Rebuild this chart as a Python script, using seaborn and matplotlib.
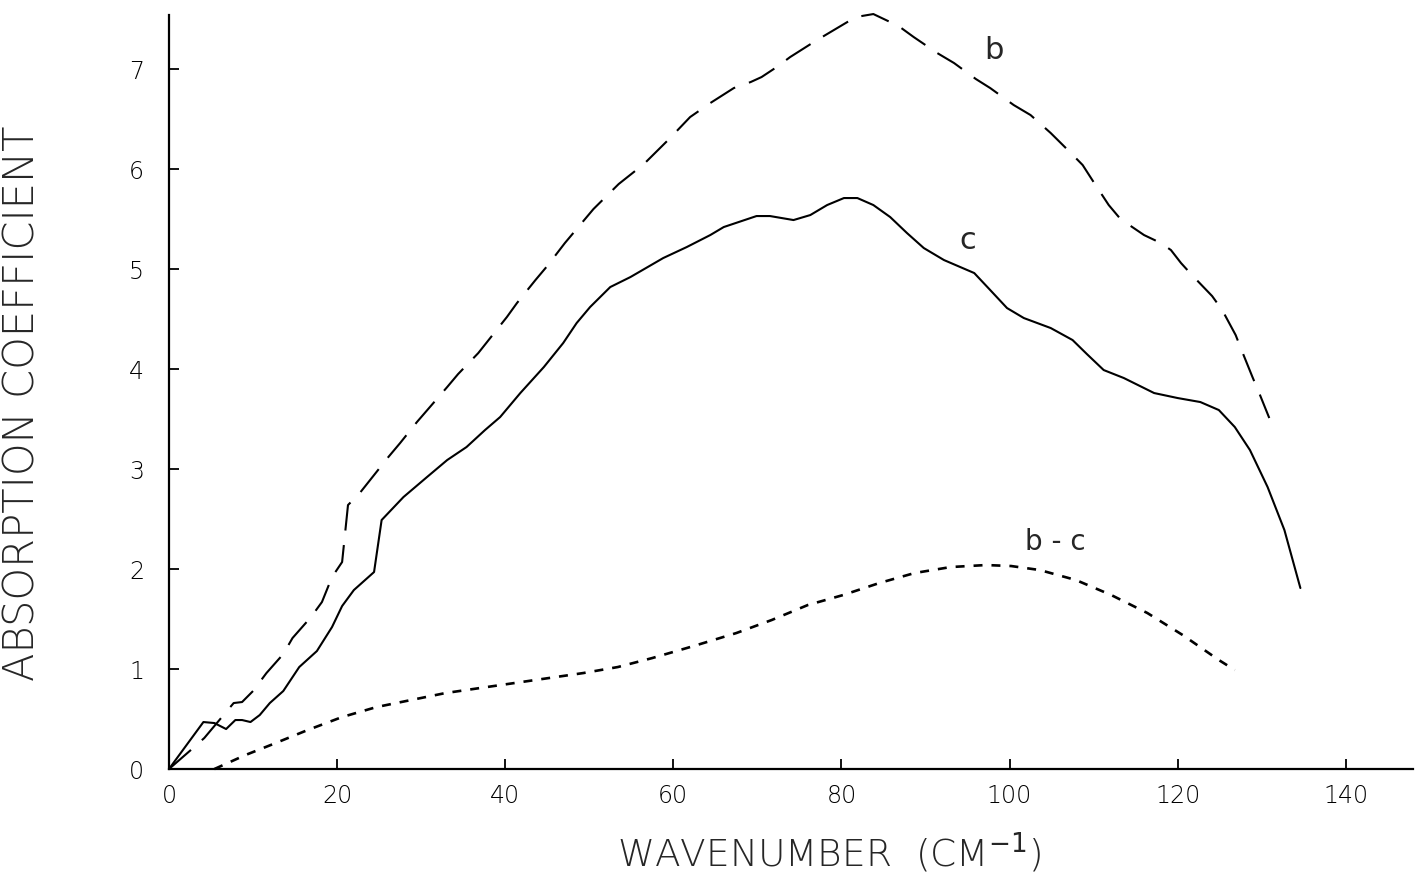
import pandas as pd
import matplotlib
matplotlib.use("Agg")
import matplotlib.pyplot as plt
import seaborn as sns

# curve c (solid)
c_x = [0, 4.1, 5.4, 6.8, 7.9, 8.7, 9.7, 10.8, 12.0, 13.6, 15.5, 17.6, 19.4, 20.6, 22.0, 24.4,
       25.3, 27.9, 30.7, 33.1, 35.4, 37.6, 39.4, 41.8, 44.6, 46.9, 48.5, 50.1, 52.5, 54.9,
       58.8, 61.6, 64.4, 66.0, 69.9, 71.5, 74.3, 76.3, 78.3, 80.3, 81.9, 83.8, 85.8, 87.8,
       89.8, 92.2, 95.8, 97.7, 99.7, 101.7, 104.9, 107.5, 109.2, 111.2, 113.6, 117.2, 120.0,
       122.7, 124.9, 126.8, 128.6, 130.7, 132.7, 134.6]
c_y = [0, 0.47, 0.46, 0.40, 0.49, 0.49, 0.47, 0.54, 0.66, 0.78, 1.02, 1.18, 1.42, 1.63, 1.79, 1.97,
       2.49, 2.72, 2.92, 3.09, 3.22, 3.39, 3.52, 3.76, 4.02, 4.26, 4.46, 4.62, 4.82, 4.92,
       5.11, 5.22, 5.34, 5.42, 5.53, 5.53, 5.49, 5.54, 5.64, 5.71, 5.71, 5.64, 5.52, 5.36,
       5.21, 5.09, 4.96, 4.79, 4.61, 4.51, 4.41, 4.29, 4.15, 3.99, 3.91, 3.76, 3.71,
       3.67, 3.59, 3.42, 3.19, 2.82, 2.39, 1.81]

# curve b (long dashes)
b_x = [0, 2.6, 4.2, 6.3, 7.7, 8.7, 10.0, 11.6, 13.6, 14.7, 16.9, 18.2, 19.4, 20.6, 21.3, 22.7,
       26.1, 27.5, 29.5, 33.1, 34.4, 36.8, 40.2, 41.4, 43.6, 45.0, 47.1, 50.5, 53.5, 56.5,
       59.5, 62.0, 64.4, 67.2, 69.2, 70.5, 72.3, 73.9, 76.9, 78.7, 81.7, 83.8, 86.8, 88.6,
       91.4, 93.4, 96.0, 97.7, 100.5, 102.5, 104.9, 107.3, 108.7, 110.0, 111.8, 113.2, 116.0,
       118.0, 119.2, 120.4, 121.7, 124.1, 125.3, 126.9, 127.6, 128.9, 129.7, 130.9]
b_y = [0, 0.19, 0.31, 0.52, 0.66, 0.67, 0.78, 0.96, 1.15, 1.31, 1.52, 1.67, 1.92, 2.07, 2.64, 2.76,
       3.12, 3.26, 3.47, 3.82, 3.95, 4.16, 4.52, 4.66, 4.89, 5.03, 5.26, 5.6, 5.85, 6.05,
       6.3, 6.52, 6.66, 6.81, 6.87, 6.92, 7.02, 7.12, 7.28, 7.37, 7.52, 7.55, 7.43, 7.32,
       7.16, 7.06, 6.90, 6.81, 6.64, 6.54, 6.36, 6.16, 6.04, 5.87, 5.64, 5.50, 5.34,
       5.26, 5.19, 5.06, 4.94, 4.73, 4.59, 4.34, 4.19, 3.92, 3.76, 3.51]

# difference b - c (short dashes)
bc_x = [5.4, 9.1, 12.4, 16.5, 20.6, 24.7, 28.8, 32.9, 37.0, 41.1, 45.2, 49.3, 53.4, 57.5, 61.6,
        63.2, 67.5, 71.7, 76.0, 80.2, 84.5, 88.7, 93.0, 97.2, 100.2, 103.6, 107.9, 112.1,
        116.4, 120.6, 124.9, 126.8]
bc_y = [0, 0.14, 0.25, 0.39, 0.52, 0.62, 0.69, 0.76, 0.81, 0.86, 0.91, 0.96, 1.02, 1.11, 1.21,
        1.25, 1.36, 1.49, 1.64, 1.74, 1.86, 1.96, 2.02, 2.04, 2.03, 1.99, 1.89, 1.74,
        1.56, 1.34, 1.09, 0.99]

x_ticks = [0, 20, 40, 60, 80, 100, 120, 140]
y_ticks = [0, 1, 2, 3, 4, 5, 6, 7]

sns.set_style("ticks")
plt.rcParams['font.family'] = ['DejaVu Sans']
plt.rcParams['mathtext.fontset'] = 'dejavusans'

fig = plt.figure(figsize=(14.15, 8.75), dpi=100)
ax = fig.add_axes([0.1194, 0.1211, 0.8792, 0.8617])

df_b = pd.DataFrame({"x": b_x, "y": b_y})
df_c = pd.DataFrame({"x": c_x, "y": c_y})
df_bc = pd.DataFrame({"x": bc_x, "y": bc_y})

sns.lineplot(data=df_b, x="x", y="y", ax=ax, color="black", lw=1.5,
             linestyle=(0, (14, 7)), estimator=None, clip_on=False)
sns.lineplot(data=df_c, x="x", y="y", ax=ax, color="black", lw=1.5,
             estimator=None, clip_on=False)
sns.lineplot(data=df_bc, x="x", y="y", ax=ax, color="black", lw=1.9,
             linestyle=(0, (3.4, 3.4)), estimator=None, clip_on=False)

ax.set_xlim(0, 148)
ax.set_ylim(0, 7.54)
ax.set_xticks(x_ticks)
ax.set_yticks(y_ticks)
sns.despine(ax=ax)
for s in ["left", "bottom"]:
    ax.spines[s].set_linewidth(1.6)
    ax.spines[s].set_color("black")

ax.tick_params(axis="both", direction="in", length=7, width=1.3, colors="black",
               labelsize=17)
ax.tick_params(axis="x", pad=11)
ax.tick_params(axis="y", pad=18)
for lab in ax.get_xticklabels() + ax.get_yticklabels():
    lab.set_fontweight(200)

ax.set_xlabel("WAVENUMBER  (CM$^{-1}$)", fontsize=27, fontweight=200, va="baseline")
ax.set_ylabel("ABSORPTION COEFFICIENT", fontsize=30, fontweight=200, va="bottom")
ax.xaxis.set_label_coords(0.531, -0.129)
ax.yaxis.set_label_coords(-0.102, 0.485)

# curve labels
ax.text(98.1, 7.19, "b", fontsize=22, ha="center", va="center")
ax.text(95.0, 5.29, "c", fontsize=22, ha="center", va="center")
ax.text(105.5, 2.27, "b - c", fontsize=20, ha="center", va="center")

fig.savefig("out.png", dpi=100)
